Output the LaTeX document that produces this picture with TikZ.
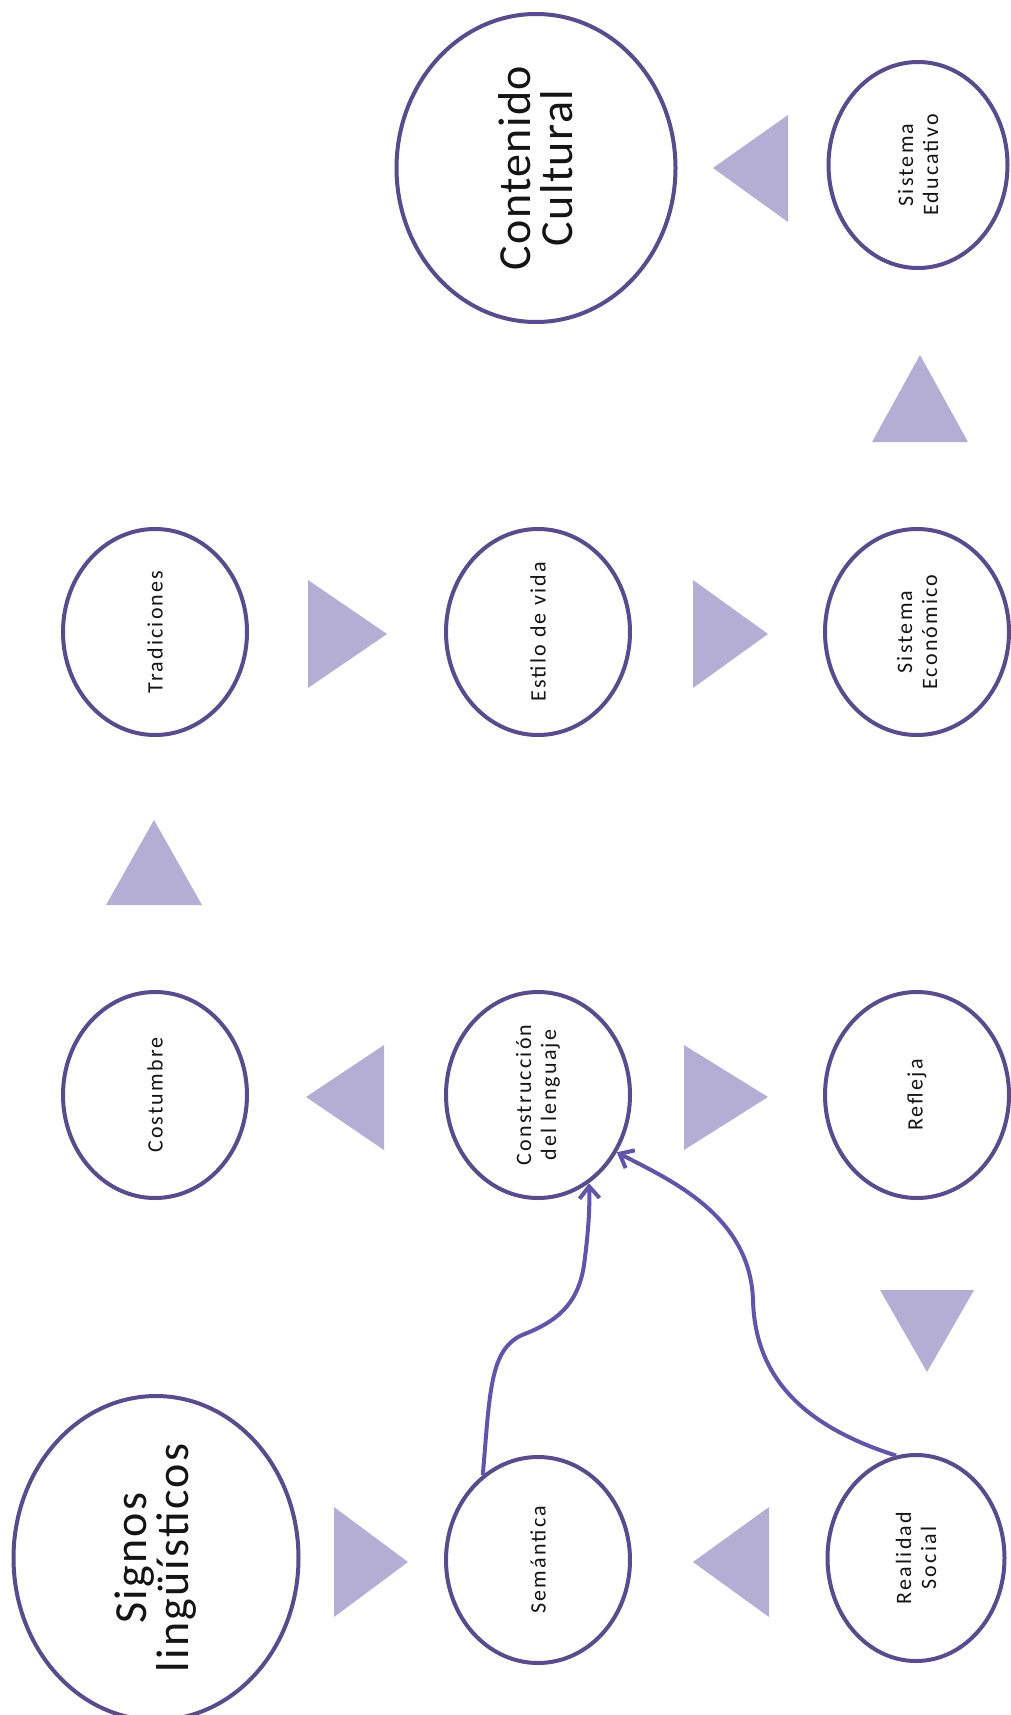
\documentclass[tikz,border=0pt]{standalone}
\usepackage{fontspec}
\setmainfont{Carlito}
\newfontfamily\bigf[LetterSpace=3]{Carlito}
\newfontfamily\bigwidef[LetterSpace=5]{Carlito}
\newfontfamily\smallf[LetterSpace=10]{Carlito}
\usetikzlibrary{shapes.geometric,arrows.meta}
\definecolor{ring}{RGB}{88,76,140}
\definecolor{tricol}{RGB}{180,174,212}
\definecolor{linkcol}{RGB}{98,84,168}
\definecolor{txt}{RGB}{20,20,20}
\tikzset{
 bub/.style={ellipse, draw=ring, line width=4pt, fill=white, rotate=90, inner sep=0pt, align=center, text=txt, minimum width=206pt, minimum height=184pt, font=\smallf\fontsize{22}{25}\selectfont},
 bigbub/.style={bub, font=\bigf\fontsize{46}{42}\selectfont},
 tri/.style={fill=tricol, draw=none},
 link/.style={draw=linkcol, line width=4pt, -{Straight Barb[length=12pt,width=20pt]}},
}
\begin{document}
\begin{tikzpicture}[x=1pt,y=-1pt]
\path[use as bounding box, fill=white] (0,0) rectangle (1011,1715);
% triangles
\fill[tri] (334,1507) -- (408,1562) -- (334,1617) -- cycle;
\fill[tri] (769,1507) -- (693,1562) -- (769,1617) -- cycle;
\fill[tri] (880,1290) -- (974,1290) -- (927,1372) -- cycle;
\fill[tri] (684,1045) -- (768,1097) -- (684,1150) -- cycle;
\fill[tri] (384,1045) -- (306,1097) -- (384,1150) -- cycle;
\fill[tri] (106,905) -- (202,905) -- (154,820) -- cycle;
\fill[tri] (308,580) -- (387,634) -- (308,688) -- cycle;
\fill[tri] (693,580) -- (768,634) -- (693,688) -- cycle;
\fill[tri] (872,442) -- (968,442) -- (920,355) -- cycle;
\fill[tri] (788,115) -- (713,168) -- (788,222) -- cycle;
% nodes
\node[bigbub, minimum width=308pt, minimum height=279pt] (cont) at (536,168) {Contenido\\Cultural};
\node[bub, minimum height=179pt] (sedu) at (918,165) {Sistema\\Educativo};
\node[bub] (trad) at (155,632) {Tradiciones};
\node[bub] (estilo) at (538,632) {Estilo de vida};
\node[bub] (seco) at (917,632) {Sistema\\Económico};
\node[bub] (cost) at (155,1095) {Costumbre};
\node[bub] (constr) at (538,1095) {Construcción\\del lenguaje};
\node[bub] (refl) at (917,1095) {Refleja};
\node[bigbub, font=\bigwidef\fontsize{46}{42}\selectfont, minimum width=307pt, minimum height=285pt] (signos) at (156,1558) {Signos\\lingüísticos};
\node[bub] (sem) at (538,1560) {Semántica};
\node[bub, minimum height=177pt] (real) at (916,1558) {Realidad\\Social};
% connectors
\draw[link] (sem.33) .. controls (490,1390) and (490,1350) .. (522,1335) .. controls (556,1322) and (578,1305) .. (584,1265) .. controls (588,1235) and (590,1210) .. (constr.210);
\draw[link] (real.11) .. controls (800,1425) and (755,1375) .. (753,1300) .. controls (750,1215) and (670,1180) .. (constr.234);
\end{tikzpicture}
\end{document}
